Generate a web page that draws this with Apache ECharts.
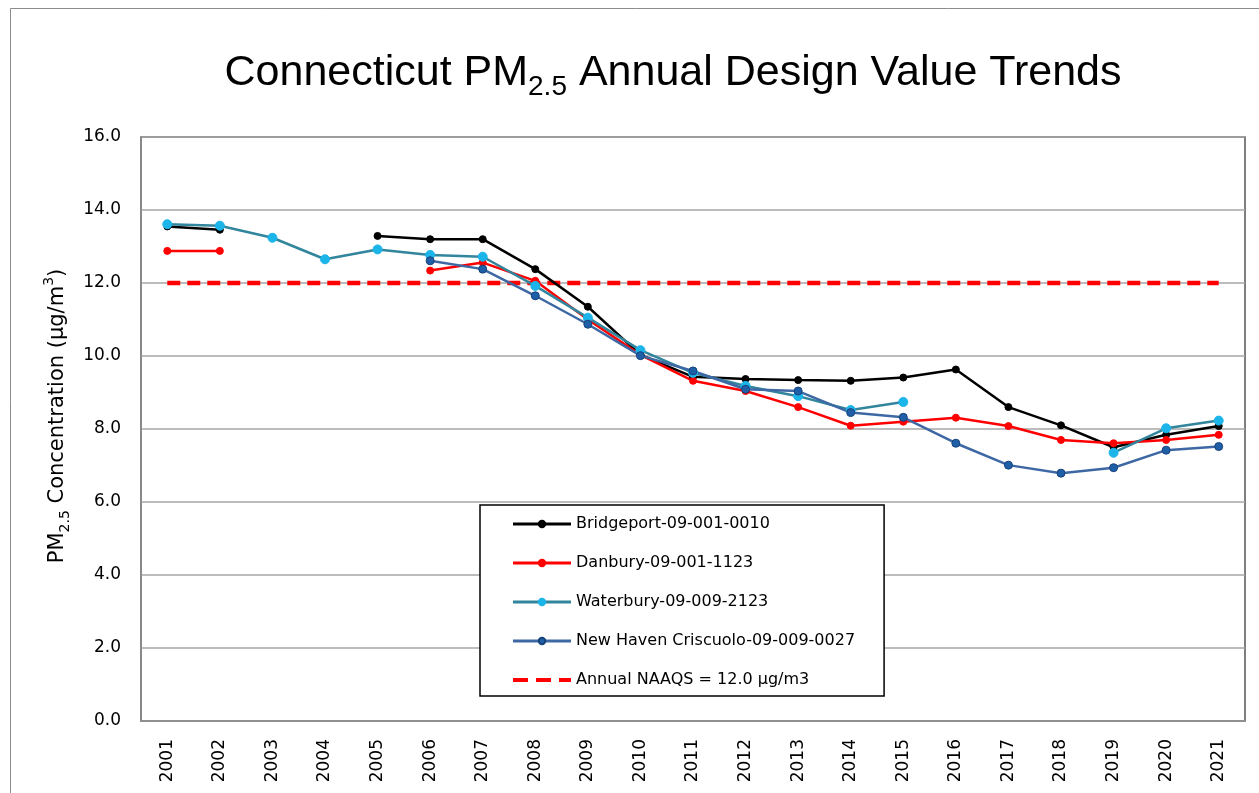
<!DOCTYPE html>
<html>
<head>
<meta charset="utf-8">
<script src="https://cdn.jsdelivr.net/npm/echarts@6/dist/echarts.min.js"></script>
<style>
  html, body { margin: 0; padding: 0; background: #fff; }
  #chart { width: 1259px; height: 793px; }
</style>
</head>
<body>
<div id="chart"></div>
<script>
// years on the x axis
const years = ['2001','2002','2003','2004','2005','2006','2007','2008','2009','2010','2011',
               '2012','2013','2014','2015','2016','2017','2018','2019','2020','2021'];

// design values, µg/m3 (null = no valid design value)
const bridgeport = [13.55, 13.46, null, null, 13.29, 13.2, 13.2, 12.38, 11.35, 10.03, 9.43,
                    9.37, 9.34, 9.32, 9.41, 9.63, 8.6, 8.1, 7.5, 7.84, 8.08];
const danbury    = [12.88, 12.88, null, null, null, 12.34, 12.56, 12.06, 11.0, 10.03, 9.32,
                    9.04, 8.6, 8.09, 8.2, 8.31, 8.08, 7.7, 7.61, 7.7, 7.84];
const waterbury  = [13.61, 13.57, 13.24, 12.65, 12.92, 12.77, 12.72, 11.92, 11.05, 10.16, 9.54,
                    9.18, 8.9, 8.52, 8.74, null, null, null, 7.35, 8.02, 8.23];
const newHaven   = [null, null, null, null, null, 12.61, 12.38, 11.65, 10.87, 10.01, 9.59,
                    9.09, 9.04, 8.45, 8.32, 7.61, 7.01, 6.79, 6.94, 7.42, 7.52];
const naaqsLevel = 12.0;
const naaqs = years.map(() => naaqsLevel);

const seriesNames = ['Bridgeport-09-001-0010', 'Danbury-09-001-1123', 'Waterbury-09-009-2123',
                     'New Haven Criscuolo-09-009-0027', 'Annual NAAQS = 12.0 µg/m3'];

const chart = echarts.init(document.getElementById('chart'));

const font = 'DejaVu Sans';
const titleFont = 'Liberation Sans';

function siteLine(name, data, lineColor, dotColor, dotBorder, dotSize) {
    return {
        name: name,
        type: 'line',
        data: data,
        z: 3,
        symbol: 'circle',
        symbolSize: dotSize,
        connectNulls: false,
        lineStyle: { color: lineColor, width: 2.5 },
        itemStyle: { color: dotColor, borderColor: dotBorder, borderWidth: 1 },
        emphasis: { disabled: true }
    };
}

// legend entries; the NAAQS one gets a thicker dashed icon like the original
const legendData = seriesNames.map((n, i) => i === 4
    ? { name: n, lineStyle: { width: 4, type: [15, 8] } }
    : { name: n, lineStyle: { width: 3 } });

const option = {
    animation: false,
    backgroundColor: '#fff',
    title: {
        left: 668,
        top: 40,
        textAlign: 'center',
        text: '{a|Connecticut PM}{s|2.5}{a| Annual Design Value Trends}',
        textStyle: {
            rich: {
                a: { fontFamily: titleFont, fontWeight: 'normal', fontSize: 43, lineHeight: 56, color: '#000' },
                s: { fontFamily: titleFont, fontWeight: 'normal', fontSize: 28, lineHeight: 28, verticalAlign: 'bottom', color: '#000' }
            }
        }
    },
    graphic: [{
        type: 'rect',
        silent: true,
        z: -10,
        shape: { x: 10.5, y: 8.5, width: 1300, height: 900 },
        style: { fill: 'none', stroke: '#8c8c8c', lineWidth: 1 }
    }],
    legend: {
        orient: 'vertical',
        left: 480,
        top: 505,
        padding: [11, 29, 8, 31],
        itemWidth: 58,
        itemHeight: 8,
        itemGap: 23,
        backgroundColor: '#fff',
        borderColor: '#000',
        borderWidth: 1.5,
        borderRadius: 0,
        textStyle: { fontFamily: font, fontSize: 16, color: '#000' },
        data: legendData
    },
    grid: {
        left: 141,
        right: 14,
        top: 137,
        bottom: 72,
        show: true,
        borderColor: '#555',
        borderWidth: 1.5
    },
    xAxis: {
        type: 'category',
        data: years,
        boundaryGap: true,
        axisLine: { lineStyle: { color: '#8c8c8c', width: 1.5 } },
        axisTick: { show: false },
        axisLabel: { rotate: 90, margin: 18, fontFamily: font, fontSize: 17, color: '#000' }
    },
    yAxis: {
        type: 'value',
        min: 0,
        max: 16,
        interval: 2,
        axisLine: { show: true, lineStyle: { color: '#8c8c8c', width: 1.5 } },
        axisTick: { show: false },
        splitLine: { lineStyle: { color: '#a6a6a6', width: 1.5 } },
        axisLabel: {
            margin: 20,
            fontFamily: font,
            fontSize: 17,
            color: '#000',
            formatter: v => v.toFixed(1)
        },
        name: '{a|PM}{b|2.5}{a| Concentration (µg/m}{c|3}{a|)}',
        nameLocation: 'middle',
        nameRotate: 90,
        nameGap: 68,
        nameTextStyle: {
            padding: [0, 0, 0, 26],
            rich: {
                a: { fontFamily: font, fontSize: 21, lineHeight: 30, color: '#000' },
                b: { fontFamily: font, fontSize: 14, lineHeight: 14, verticalAlign: 'bottom', color: '#000' },
                c: { fontFamily: font, fontSize: 14, lineHeight: 14, verticalAlign: 'top', color: '#000' }
            }
        }
    },
    series: [
        siteLine(seriesNames[0], bridgeport, '#000000', '#000000', '#000000', 7),
        siteLine(seriesNames[1], danbury, '#ff0000', '#ff0000', '#ff0000', 7),
        siteLine(seriesNames[2], waterbury, '#31859c', '#1cb5ea', '#1cb5ea', 9),
        siteLine(seriesNames[3], newHaven, '#3d68a4', '#1f5fa8', '#17427a', 8),
        {
            name: seriesNames[4],
            type: 'line',
            data: naaqs,
            z: 2,
            symbol: 'none',
            itemStyle: { color: 'rgba(0,0,0,0)' },
            lineStyle: { color: '#ff0000', width: 4.5, type: [13, 7] },
            emphasis: { disabled: true }
        }
    ]
};

chart.setOption(option);
window.addEventListener('resize', () => chart.resize());
</script>
</body>
</html>
